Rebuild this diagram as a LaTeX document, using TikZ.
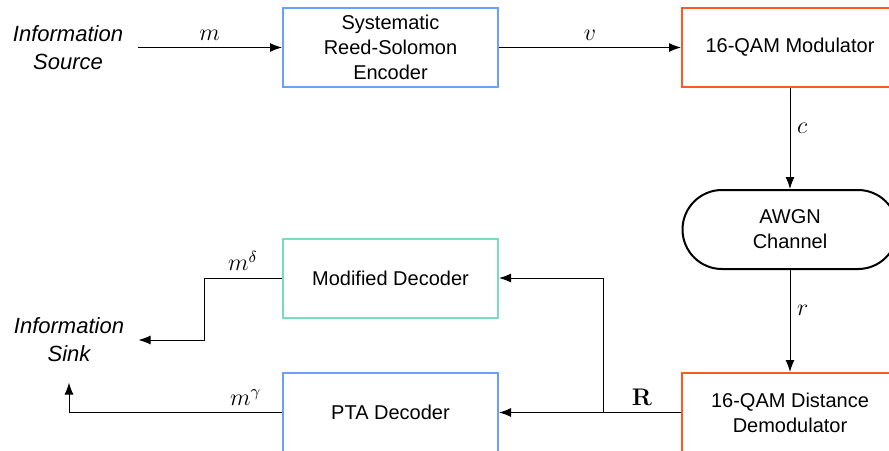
\documentclass[tikz,border=0pt]{standalone}
\usepackage[no-math]{fontspec}
\setmainfont{Liberation Sans}
\usetikzlibrary{arrows.meta}
\definecolor{encblue}{RGB}{104,160,250}
\definecolor{modorange}{RGB}{255,90,30}
\definecolor{decgreen}{RGB}{120,220,190}
\begin{document}
\begin{tikzpicture}[x=0.5pt, y=-0.5pt, >={Latex[length=6pt,width=4.5pt]}, line width=0.5pt]
			\tikzstyle{block}   = [rectangle, draw, line width=1pt, minimum width=107.5pt, minimum height=39.5pt, align=center, font=\fontsize{10}{12.5}\selectfont]
			\tikzstyle{blockB}  = [block, draw=encblue]
			\tikzstyle{blockO}  = [block, draw=modorange, minimum width=108pt]
			\tikzstyle{blockG}  = [block, draw=decgreen]
			\tikzstyle{channel} = [block, draw=black, rounded corners=19.75pt]
			\tikzstyle{info}    = [align=center, inner xsep=7pt, inner ysep=10pt, font=\itshape\fontsize{11}{14}\selectfont]
			\tikzstyle{lab}     = [font=\fontsize{12}{14}\selectfont]

			\useasboundingbox (0,0) rectangle (889,450);

			\node[info] (src) at (68, 47.5) {Information\\Source};
			\node[info] (sink) at (69, 340) {Information\\Sink};

			\node[blockB] (enc) at (390.5, 47.5) {Systematic\\Reed-Solomon\\Encoder};
			\node[blockO] (mod) at (790, 47.5) {16-QAM Modulator};
			\node[channel] (awgn) at (790, 229.5) {AWGN\\Channel};
			\node[blockO] (demod) at (790, 412.5) {16-QAM Distance\\Demodulator};
			\node[blockG] (moddec) at (390.5, 278) {Modified Decoder};
			\node[blockB] (pta) at (390.5, 412.5) {PTA Decoder};

			\coordinate (split) at (603, 412.5);

			\draw[->] (src) -- node[lab, above] {$m$} (enc);
			\draw[->] (enc) -- node[lab, above] {$v$} (mod);
			\draw[->] (mod) -- node[lab, right, pos=0.4] {$c$} (awgn);
			\draw[->] (awgn) -- node[lab, right, pos=0.4] {$r$} (demod);
			\draw (demod.west) -- node[lab, above] {$\mathbf{R}$} (split);
			\draw[->] (split) -- (pta.east);
			\draw[->] (split) |- (moddec.east);
			\draw[->] (moddec.west) -- node[lab, above] {$m^\delta$} ++(-39pt,0) |- (sink.east);
			\draw[->] (pta.west) -| node[lab, above, pos=0.085] {$m^\gamma$} (sink.south);

		\end{tikzpicture}
\end{document}
